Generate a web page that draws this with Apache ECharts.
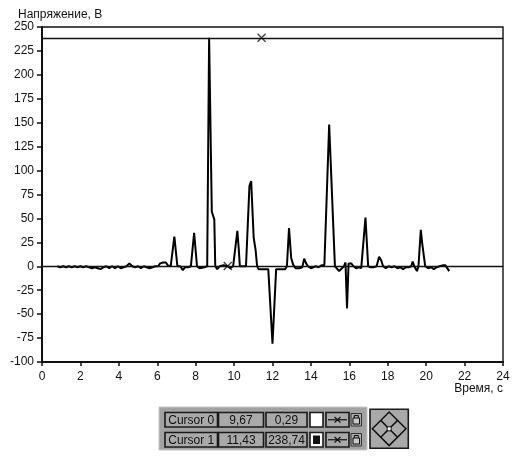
<!DOCTYPE html>
<html>
<head>
<meta charset="utf-8">
<script src="https://cdn.jsdelivr.net/npm/echarts@6/dist/echarts.min.js"></script>
<style>
  html, body { margin: 0; padding: 0; background: #fff; }
  #chart { width: 523px; height: 457px; }
</style>
</head>
<body>
<div id="chart"></div>
<script>
// Oscillogram: time (s) and voltage (V)
const time = [
  0.8, 0.95, 1.1, 1.25, 1.4, 1.55, 1.7, 1.85, 2.0, 2.15, 2.3, 2.45, 2.6, 2.75, 2.9, 3.05,
  3.2, 3.35, 3.5, 3.65, 3.8, 3.95, 4.1, 4.25, 4.4, 4.55, 4.7, 4.85, 5.0, 5.15, 5.3, 5.45,
  5.6, 5.75, 5.9, 6.05, 6.15, 6.3, 6.45, 6.55, 6.7, 6.89, 7.05, 7.2, 7.33, 7.45, 7.6, 7.75,
  7.92, 8.07, 8.2, 8.3, 8.45, 8.6, 8.7, 8.84, 8.97, 9.02, 9.12, 9.25, 9.45, 9.67, 9.8, 9.95,
  10.02, 10.17, 10.24, 10.3, 10.45, 10.55, 10.62, 10.8, 10.89, 11.02, 11.12, 11.2, 11.28, 11.5, 11.78, 12.0,
  12.19, 12.45, 12.66, 12.75, 12.86, 12.97, 13.07, 13.2, 13.4, 13.55, 13.6, 13.65, 13.75, 13.85, 14.0, 14.1,
  14.25, 14.4, 14.55, 14.7, 14.77, 14.95, 15.25, 15.35, 15.47, 15.57, 15.72, 15.8, 15.88, 15.96, 16.1, 16.22,
  16.35, 16.5, 16.62, 16.72, 16.84, 16.98, 17.1, 17.25, 17.42, 17.55, 17.66, 17.76, 17.9, 18.05, 18.2, 18.35,
  18.5, 18.65, 18.8, 18.95, 19.1, 19.22, 19.3, 19.38, 19.52, 19.6, 19.72, 19.8, 19.95, 20.1, 20.25, 20.4,
  20.55, 20.7, 20.85, 21.0, 21.1, 21.2
];
const voltage = [
  0, -1, 0, -1, 0, -1, 0, -1, 0, -1, 0, -1, -2, -1, -2, -3,
  -1, 0, -2, 0, -2, 0, -2, -1, 0, 3, 0, -1, 0, -2, 0, -1,
  -2, -1, 0, 0, 3, 4, 4, 1, 0, 31, 0, 0, -4, -1, -1, 0,
  35, 0, -2, -3, -1, 0, 238.74, 57, 49, 0, -3, 0, 1, 0, -2, 0,
  0, 37, 19, 0, 0, -1, 0, 84, 89, 30, 17, 0, -3, -3, -3, -81,
  -3, -3, -3, 0, 40, 9, 2, -2, -2, -1, 0, 8, 3, 0, -2, -3,
  0, -1, 1, 1, 0, 148, 0, -2, -5, -4, 0, 4, -44, 3, 3, 0,
  -2, -1, -2, 0, 51, 0, -1, -1, 0, 10, 6, 0, -2, 0, -1, 0,
  -2, -1, -3, -1, -1, 0, 5, 0, -5, 0, 38, 23, 0, -2, -1, -3,
  -1, 0, 1, 1, -1, -5
];

// Cursor readouts
const cursorNames = ['Cursor 0', 'Cursor 1'];
const cursorX = [9.67, 11.43];
const cursorY = [0.29, 238.74];

// Axis ticks
const xTicks = { min: 0, max: 24, step: 2 };
const yTicks = { min: -100, max: 250, step: 25 };

const FONT = '"Liberation Sans", Arial, sans-serif';
const fmt = v => v.toFixed(2).replace('.', ',');

const chart = echarts.init(document.getElementById('chart'), null, { renderer: 'canvas' });

const seg = (x1, y1, x2, y2, w, c) => ({
  type: 'line',
  shape: { x1: x1, y1: y1, x2: x2, y2: y2 },
  style: { stroke: c || '#111', lineWidth: w || 1.2 }
});

// Cursor readout panel
const panelX = 159, panelY = 407;
const cells = [];
const rowTop = [5.5, 25.5];
cursorNames.forEach((name, i) => {
  const ty = panelY + rowTop[i];
  const h = 14.5;
  const box = (x, w, fill) => ({
    type: 'rect',
    shape: { x: panelX + x, y: ty, width: w, height: h },
    style: { fill: fill || '#a9a9a9', stroke: '#1a1a1a', lineWidth: 1.6 }
  });
  const label = (x, w, text) => ({
    type: 'text',
    style: {
      x: panelX + x + w / 2, y: ty + h / 2 + 0.5, text: text,
      align: 'center', verticalAlign: 'middle',
      font: '12px ' + FONT, fill: '#111'
    }
  });
  cells.push(box(6, 52.5), label(6, 52.5, name));
  cells.push(box(59.5, 45), label(59.5, 45, fmt(cursorX[i])));
  cells.push(box(107, 41), label(107, 41, fmt(cursorY[i])));
  // colour swatch
  cells.push(box(151, 13, '#ffffff'));
  if (i === 1) {
    cells.push({
      type: 'rect',
      shape: { x: panelX + 154, y: ty + 3, width: 7, height: 8.5 },
      style: { fill: '#111' }
    });
  }
  // cursor style box: line with a cross
  cells.push(box(167, 23));
  cells.push(seg(panelX + 169, ty + h / 2, panelX + 188, ty + h / 2));
  cells.push(seg(panelX + 175.5, ty + 4.5, panelX + 181.5, ty + 10));
  cells.push(seg(panelX + 181.5, ty + 4.5, panelX + 175.5, ty + 10));
  // lock icon
  cells.push({
    type: 'rect',
    shape: { x: panelX + 192, y: ty + 1, width: 10.5, height: 12.5 },
    style: { fill: '#a9a9a9', stroke: '#333', lineWidth: 1 }
  });
  cells.push({
    type: 'rect',
    shape: { x: panelX + 194, y: ty + 5.5, width: 6.5, height: 6 },
    style: { fill: '#c8c8c8', stroke: '#111', lineWidth: 1 }
  });
  cells.push({
    type: 'polyline',
    shape: { points: [[panelX + 195.3, ty + 5.5], [panelX + 195.3, ty + 3], [panelX + 199.3, ty + 3], [panelX + 199.3, ty + 5.5]] },
    style: { stroke: '#111', lineWidth: 1, fill: null }
  });
});

// Navigation pad
const nx = 370, ny = 409.3, nw = 38.3, nh = 39;
const cx = nx + nw / 2, cy = ny + nh / 2;
const r = 16.8;
const navPad = [
  {
    type: 'rect',
    shape: { x: nx, y: ny, width: nw, height: nh },
    style: { fill: '#a9a9a9', stroke: '#1a1a1a', lineWidth: 1.6 }
  },
  {
    type: 'polygon',
    shape: { points: [[cx - r, cy], [cx, cy - r], [cx + r, cy], [cx, cy + r]] },
    style: { fill: null, stroke: '#111', lineWidth: 1.5 }
  },
  seg(cx - r / 2, cy - r / 2, cx + r / 2, cy + r / 2, 1.5),
  seg(cx + r / 2, cy - r / 2, cx - r / 2, cy + r / 2, 1.5),
  {
    type: 'rect',
    shape: { x: cx - 2, y: cy - 2, width: 4, height: 4 },
    style: { fill: '#ffffff', stroke: '#111', lineWidth: 1 }
  }
];

const graphic = [
  {
    type: 'rect',
    shape: { x: panelX, y: panelY, width: 208, height: 43 },
    style: { fill: '#a2a2a2', stroke: '#c4c4c4', lineWidth: 1 }
  }
].concat(cells, navPad);

const trace = time.map((t, i) => [t, voltage[i]]);
const cursorPoints = cursorX.map((x, i) => [x, cursorY[i]]);

chart.setOption({
  animation: false,
  backgroundColor: '#ffffff',
  textStyle: { fontFamily: FONT },
  title: {
    text: 'Напряжение, В',
    left: 13, top: 4,
    textStyle: { fontSize: 12, fontWeight: 'normal', color: '#111', fontFamily: FONT }
  },
  grid: {
    left: 42, top: 27, right: 20, bottom: 95,
    show: true, borderColor: '#111', borderWidth: 1.4, backgroundColor: 'transparent'
  },
  xAxis: {
    type: 'value',
    min: xTicks.min, max: xTicks.max, interval: xTicks.step,
    name: 'Время, с',
    nameLocation: 'end',
    nameGap: 0,
    nameTextStyle: {
      fontSize: 12, color: '#111', align: 'right', verticalAlign: 'top',
      padding: [21, 0, 0, 0], fontFamily: FONT
    },
    axisLine: { show: true, onZero: false, lineStyle: { color: '#111', width: 2 } },
    axisTick: { show: true, inside: false, length: 4, lineStyle: { color: '#111', width: 1.5 } },
    axisLabel: { fontSize: 12, color: '#111', margin: 9, fontFamily: FONT },
    splitLine: { show: false }
  },
  yAxis: {
    type: 'value',
    min: yTicks.min, max: yTicks.max, interval: yTicks.step,
    axisLine: { show: true, onZero: false, lineStyle: { color: '#111', width: 2 } },
    axisTick: { show: true, inside: false, length: 5, lineStyle: { color: '#111', width: 1.5 } },
    axisLabel: { fontSize: 12, color: '#111', margin: 8, fontFamily: FONT },
    splitLine: { show: false }
  },
  series: [
    {
      name: 'U',
      type: 'line',
      data: trace,
      showSymbol: false,
      smooth: false,
      lineStyle: { color: '#000', width: 2 },
      z: 3,
      markLine: {
        silent: true,
        symbol: ['none', 'none'],
        label: { show: false },
        lineStyle: { color: '#111', width: 1.4, type: 'solid' },
        data: cursorY.map(y => ({ yAxis: y }))
      }
    },
    {
      name: 'cursors',
      type: 'scatter',
      data: cursorPoints,
      symbol: 'path://M0,0L10,10M10,0L0,10',
      symbolSize: 8,
      itemStyle: { color: 'none', borderColor: '#111', borderWidth: 1.3 },
      z: 4
    }
  ],
  graphic: graphic
});
</script>
</body>
</html>
